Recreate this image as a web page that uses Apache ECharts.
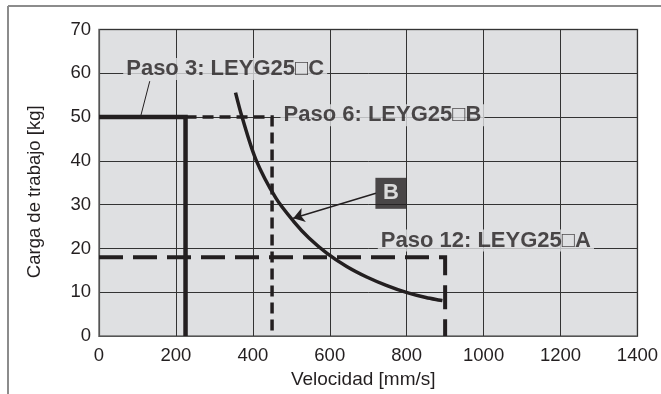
<!DOCTYPE html>
<html><head><meta charset="utf-8">
<script src="https://cdn.jsdelivr.net/npm/echarts@6/dist/echarts.min.js"></script>
<style>html,body{margin:0;padding:0;background:#fff}#c{width:661px;height:394px}</style>
</head><body><div id="c"></div>
<script>
// ---- data ----
const xTicks = [0, 200, 400, 600, 800, 1000, 1200, 1400];
const yTicks = [0, 10, 20, 30, 40, 50, 60, 70];
const paso3 = [[0, 50], [225, 50], [225, 0]];        // LEYG25□C
const paso6 = [[225, 50], [450, 50], [450, 0]];      // LEYG25□B
const paso12 = [[0, 18], [900, 18], [900, 0]];       // LEYG25□A
const curveB = [[355, 55.6], [372, 50.0], [408, 40.3], [460, 31.5], [507, 26.1], [546, 22.4], [593, 18.9], [644, 15.9], [696, 13.5], [747, 11.6], [799, 10.0], [850, 8.8], [893, 8.1]];
const labelTexts = ['Paso 3: LEYG25\u25A1C', 'Paso 6: LEYG25\u25A1B', 'Paso 12: LEYG25\u25A1A', 'B'];
const labelAnchors = [[63, 61.0], [472, 50.4], [725, 21.8], [759, 32.6]];
const leader3 = [[132, 58.2], [109, 50.4]];
const arrowB = [[720, 32.6], [505, 26.9]];
const xName = 'Velocidad [mm/s]';
const yName = 'Carga de trabajo [kg]';

const FONT = '"Liberation Sans", Arial, Helvetica, sans-serif';
const INK = '#231f20';
const BG = '#dfe0e2';

const chart = echarts.init(document.getElementById('c'), null, {renderer: 'canvas'});
const lineSeries = (data, width, dash) => ({
  type: 'line', data, symbol: 'none', silent: true, animation: false,
  lineStyle: {color: INK, width, type: dash ? dash : 'solid', cap: 'butt', join: 'miter'},
  z: 3
});
const textLabelStyle = {
  show: true, position: 'right', distance: 0, color: INK, fontFamily: FONT,
  fontWeight: 'bold', fontSize: 22, backgroundColor: BG, padding: [0, 3], lineHeight: 22
};
const option = {
  animation: false,
  grid: {left: 99, right: 17, top: 29.5, bottom: 55, show: true, backgroundColor: BG, borderColor: '#6f6f6f', borderWidth: 1.5},
  graphic: [
    {type: 'line', shape: {x1: 8, y1: 6, x2: 661, y2: 6}, style: {stroke: '#8c8c8c', lineWidth: 2}},
    {type: 'line', shape: {x1: 8, y1: 6, x2: 8, y2: 394}, style: {stroke: '#8c8c8c', lineWidth: 2}}
  ],
  xAxis: {
    type: 'value', min: xTicks[0], max: xTicks[xTicks.length - 1], interval: xTicks[1] - xTicks[0],
    name: xName, nameLocation: 'middle', nameGap: 33,
    nameTextStyle: {color: INK, fontFamily: FONT, fontSize: 19, padding: [0, 10, 0, 0]},
    axisLine: {show: true, lineStyle: {color: '#555', width: 1.2}},
    axisTick: {show: false},
    axisLabel: {color: INK, fontFamily: FONT, fontSize: 18.5, margin: 10, formatter: v => String(v)},
    splitLine: {show: true, lineStyle: {color: '#333', width: 1}}
  },
  yAxis: {
    type: 'value', min: yTicks[0], max: yTicks[yTicks.length - 1], interval: yTicks[1] - yTicks[0],
    name: yName, nameLocation: 'middle', nameGap: 55,
    nameTextStyle: {color: INK, fontFamily: FONT, fontSize: 18.5, padding: [0, 18, 0, 0]},
    axisLine: {show: true, lineStyle: {color: '#555', width: 1.2}},
    axisTick: {show: false},
    axisLabel: {color: INK, fontFamily: FONT, fontSize: 18.5, margin: 8, formatter: v => String(v)},
    splitLine: {show: true, lineStyle: {color: '#333', width: 1}}
  },
  series: [
    lineSeries(paso6, 3.5, [11, 6]),
    lineSeries(paso12, 4, [24, 10]),
    lineSeries(paso3, 4.5),
    Object.assign(lineSeries(curveB, 3.5), {smooth: 0.3}),
    {
      type: 'lines', coordinateSystem: 'cartesian2d', silent: true, z: 4,
      data: [{coords: leader3}],
      lineStyle: {color: INK, width: 1, opacity: 1}, symbol: ['none', 'none']
    },
    {
      type: 'lines', coordinateSystem: 'cartesian2d', silent: true, z: 4,
      data: [{coords: arrowB}],
      lineStyle: {color: INK, width: 1.5, opacity: 1}, symbol: ['none', 'arrow'], symbolSize: [0, 11]
    },
    {
      type: 'scatter', symbolSize: 0, silent: true, z: 6,
      data: labelAnchors.slice(0, 3).map((p, i) => ({value: p, label: Object.assign({}, textLabelStyle, {formatter: labelTexts[i]})}))
    },
    {
      type: 'scatter', symbolSize: 0, silent: true, z: 7,
      data: [{value: labelAnchors[3], label: {show: true, position: 'inside', formatter: labelTexts[3], color: '#fff',
        fontFamily: FONT, fontWeight: 'bold', fontSize: 22, backgroundColor: INK, width: 31, height: 31, lineHeight: 31, align: 'center', verticalAlign: 'middle'}}]
    }
  ]
};
chart.setOption(option);
</script></body></html>
